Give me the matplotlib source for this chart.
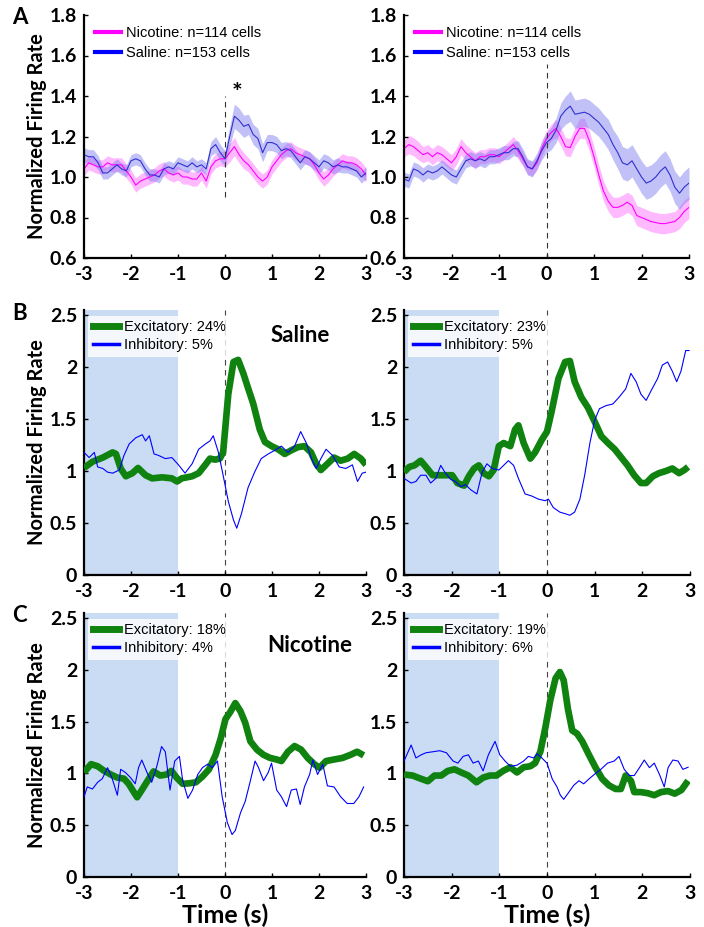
import numpy as np
import matplotlib
matplotlib.use("Agg")
import matplotlib.pyplot as plt

# ---------------- DATA ----------------
# Panel A (t grid 0.1 s from -3 to 3)
tA = [round(-3 + 0.1 * i, 1) for i in range(61)]

A_left_saline = [1.11, 1.10, 1.10, 1.07, 1.02, 1.02, 1.04, 1.06, 1.04, 1.03,
                 1.08, 1.09, 1.08, 1.04, 1.01, 1.01, 1.00, 1.04, 1.05, 1.04,
                 1.07, 1.06, 1.05, 1.07, 1.05, 1.06, 1.04, 1.14, 1.16, 1.12,
                 1.09, 1.20, 1.30, 1.28, 1.25, 1.26, 1.21, 1.19, 1.12, 1.17,
                 1.17, 1.16, 1.13, 1.14, 1.13, 1.10, 1.07, 1.10, 1.09, 1.07,
                 1.05, 1.08, 1.07, 1.05, 1.06, 1.05, 1.05, 1.04, 1.03, 1.00, 1.02]
A_left_saline_sem = [0.035, 0.035, 0.035, 0.035, 0.03, 0.03, 0.03, 0.03, 0.03, 0.03,
                     0.03, 0.03, 0.03, 0.03, 0.03, 0.03, 0.03, 0.03, 0.03, 0.03,
                     0.03, 0.03, 0.03, 0.03, 0.03, 0.03, 0.03, 0.035, 0.04, 0.04,
                     0.04, 0.05, 0.06, 0.06, 0.055, 0.05, 0.05, 0.05, 0.045, 0.04,
                     0.04, 0.04, 0.04, 0.035, 0.035, 0.035, 0.035, 0.035, 0.035, 0.035,
                     0.035, 0.035, 0.035, 0.035, 0.035, 0.03, 0.03, 0.03, 0.03, 0.03, 0.03]
A_left_nicotine = [1.04, 1.07, 1.06, 1.05, 1.05, 1.07, 1.06, 1.06, 1.06, 1.03,
                   1.00, 0.96, 0.98, 0.99, 1.00, 1.01, 1.03, 1.04, 1.02, 1.01,
                   1.02, 1.00, 1.00, 0.99, 0.99, 1.02, 0.98, 1.05, 1.08, 1.09,
                   1.09, 1.12, 1.15, 1.11, 1.08, 1.06, 1.03, 1.00, 0.98, 1.00,
                   1.05, 1.08, 1.11, 1.13, 1.14, 1.12, 1.11, 1.10, 1.09, 1.06,
                   1.02, 0.99, 1.01, 1.04, 1.06, 1.08, 1.07, 1.07, 1.06, 1.04, 1.01]
A_left_nicotine_sem = [0.035, 0.035, 0.035, 0.035, 0.035, 0.035, 0.035, 0.035, 0.035, 0.035,
                       0.035, 0.035, 0.035, 0.035, 0.035, 0.035, 0.035, 0.035, 0.035, 0.035,
                       0.035, 0.035, 0.035, 0.035, 0.035, 0.035, 0.035, 0.035, 0.035, 0.035,
                       0.04, 0.045, 0.045, 0.04, 0.04, 0.035, 0.035, 0.035, 0.035, 0.035,
                       0.035, 0.035, 0.035, 0.035, 0.035, 0.035, 0.035, 0.035, 0.035, 0.035,
                       0.035, 0.035, 0.035, 0.035, 0.035, 0.035, 0.035, 0.035, 0.035, 0.035, 0.035]

A_right_saline = [0.99, 0.98, 1.04, 1.03, 1.01, 1.03, 1.02, 1.03, 1.05, 1.03,
                  1.01, 1.00, 1.04, 1.08, 1.09, 1.08, 1.09, 1.08, 1.10, 1.10,
                  1.11, 1.12, 1.12, 1.14, 1.14, 1.10, 1.05, 1.04, 1.08, 1.13,
                  1.17, 1.19, 1.23, 1.30, 1.33, 1.35, 1.31, 1.315, 1.32, 1.31,
                  1.29, 1.27, 1.24, 1.21, 1.16, 1.12, 1.07, 1.06, 1.08, 1.04,
                  1.00, 0.97, 0.98, 1.00, 1.03, 1.05, 1.01, 0.95, 0.92, 0.95, 0.97]
A_right_saline_sem = [0.035, 0.035, 0.035, 0.035, 0.035, 0.035, 0.035, 0.035, 0.035, 0.035,
                      0.035, 0.035, 0.035, 0.035, 0.035, 0.035, 0.035, 0.035, 0.035, 0.035,
                      0.035, 0.035, 0.035, 0.035, 0.04, 0.04, 0.04, 0.04, 0.04, 0.045,
                      0.05, 0.055, 0.06, 0.065, 0.07, 0.075, 0.07, 0.07, 0.07, 0.07,
                      0.07, 0.07, 0.07, 0.075, 0.075, 0.08, 0.08, 0.08, 0.08, 0.08,
                      0.08, 0.08, 0.08, 0.08, 0.08, 0.08, 0.08, 0.08, 0.08, 0.08, 0.08]
A_right_nicotine = [1.14, 1.16, 1.15, 1.13, 1.11, 1.12, 1.10, 1.12, 1.11, 1.09,
                    1.07, 1.10, 1.15, 1.12, 1.10, 1.08, 1.10, 1.10, 1.11, 1.11,
                    1.10, 1.12, 1.14, 1.16, 1.13, 1.09, 1.05, 1.04, 1.07, 1.14,
                    1.19, 1.22, 1.24, 1.20, 1.15, 1.145, 1.20, 1.24, 1.24, 1.18,
                    1.10, 1.01, 0.93, 0.88, 0.85, 0.85, 0.86, 0.875, 0.86, 0.81,
                    0.80, 0.79, 0.78, 0.775, 0.77, 0.77, 0.775, 0.78, 0.80, 0.83, 0.85]
A_right_nicotine_sem = [0.04, 0.045, 0.045, 0.045, 0.04, 0.04, 0.04, 0.04, 0.04, 0.04,
                        0.04, 0.04, 0.04, 0.04, 0.04, 0.04, 0.035, 0.035, 0.035, 0.035,
                        0.035, 0.035, 0.035, 0.04, 0.04, 0.035, 0.035, 0.035, 0.035, 0.04,
                        0.04, 0.04, 0.045, 0.045, 0.045, 0.045, 0.045, 0.05, 0.05, 0.05,
                        0.05, 0.05, 0.05, 0.05, 0.05, 0.05, 0.05, 0.05, 0.05, 0.05,
                        0.05, 0.05, 0.05, 0.05, 0.05, 0.05, 0.05, 0.05, 0.055, 0.055, 0.055]

# Panel B, Saline (left) / Panel B right
B_left_exc_t = [-3.0, -2.82, -2.6, -2.39, -2.32, -2.22, -2.11, -1.97, -1.85, -1.69, -1.55, -1.34,
                -1.13, -1.02, -0.92, -0.7, -0.56, -0.42, -0.32, -0.21, -0.11, -0.04, 0.07, 0.18,
                0.28, 0.39, 0.49, 0.6, 0.74, 0.85, 0.99, 1.13, 1.27, 1.41, 1.55, 1.69, 1.83,
                1.94, 2.04, 2.18, 2.32, 2.46, 2.61, 2.75, 2.89, 3.0]
B_left_exc = [1.03, 1.09, 1.13, 1.18, 1.165, 1.025, 0.95, 0.98, 1.03, 0.96, 0.93, 0.94,
              0.93, 0.90, 0.93, 0.95, 0.98, 1.06, 1.12, 1.11, 1.12, 1.18, 1.74, 2.05,
              2.07, 1.94, 1.80, 1.65, 1.40, 1.28, 1.24, 1.21, 1.165, 1.20, 1.23, 1.24, 1.18,
              1.07, 1.01, 1.07, 1.13, 1.10, 1.12, 1.165, 1.12, 1.06]
B_left_inh_t = [-3.0, -2.89, -2.78, -2.71, -2.6, -2.5, -2.39, -2.25, -2.15, -2.04, -1.9, -1.76,
                -1.69, -1.61, -1.51, -1.41, -1.27, -1.13, -0.99, -0.85, -0.7, -0.56, -0.42, -0.32,
                -0.25, -0.14, -0.04, 0.07, 0.18, 0.25, 0.35, 0.49, 0.63, 0.77, 0.92, 1.06, 1.2,
                1.34, 1.48, 1.61, 1.73, 1.83, 1.94, 2.04, 2.15, 2.29, 2.43, 2.57, 2.71, 2.82,
                2.92, 3.0]
B_left_inh = [1.18, 1.13, 1.18, 1.04, 1.025, 0.99, 0.98, 1.01, 1.15, 1.26, 1.32, 1.35,
              1.29, 1.34, 1.165, 1.15, 1.12, 1.13, 1.06, 0.98, 1.07, 1.21, 1.26, 1.29,
              1.34, 1.18, 0.96, 0.71, 0.53, 0.45, 0.59, 0.84, 0.99, 1.12, 1.165, 1.20, 1.24,
              1.18, 1.24, 1.38, 1.27, 1.13, 1.025, 1.12, 1.21, 1.15, 1.04, 1.025, 1.06, 0.90,
              0.98, 0.99]

B_right_exc_t = [-3.0, -2.89, -2.78, -2.65, -2.54, -2.4, -2.26, -2.13, -1.99, -1.88, -1.74, -1.64,
                 -1.53, -1.43, -1.33, -1.22, -1.12, -1.01, -0.91, -0.77, -0.67, -0.6, -0.49, -0.35,
                 -0.25, -0.11, 0.0, 0.1, 0.24, 0.38, 0.48, 0.58, 0.72, 0.86, 1.0, 1.14, 1.28,
                 1.42, 1.56, 1.69, 1.83, 1.97, 2.08, 2.22, 2.35, 2.49, 2.63, 2.77, 2.88, 2.96]
B_right_exc = [0.99, 1.04, 1.055, 1.10, 1.04, 0.96, 0.96, 0.96, 0.96, 0.885, 0.86, 0.95,
               1.025, 1.055, 0.98, 0.95, 1.01, 1.24, 1.27, 1.24, 1.40, 1.44, 1.27, 1.12,
               1.18, 1.30, 1.38, 1.58, 1.89, 2.05, 2.06, 1.86, 1.71, 1.61, 1.475, 1.335, 1.27,
               1.21, 1.13, 1.055, 0.96, 0.885, 0.885, 0.95, 0.98, 1.0, 1.025, 0.98, 1.01, 1.04]
B_right_inh_t = [-3.0, -2.85, -2.75, -2.65, -2.54, -2.44, -2.33, -2.23, -2.13, -2.02, -1.92, -1.81,
                 -1.71, -1.6, -1.47, -1.36, -1.26, -1.15, -1.01, -0.91, -0.81, -0.7, -0.6, -0.46,
                 -0.32, -0.18, -0.04, 0.03, 0.13, 0.27, 0.38, 0.48, 0.58, 0.69, 0.79, 0.9, 1.0,
                 1.1, 1.24, 1.38, 1.51, 1.65, 1.76, 1.87, 1.97, 2.08, 2.18, 2.32, 2.42, 2.53,
                 2.63, 2.72, 2.81, 2.91, 2.98]
B_right_inh = [0.93, 0.885, 0.90, 0.96, 0.96, 0.885, 0.93, 1.055, 0.98, 0.92, 0.90, 0.85,
               0.87, 0.82, 0.78, 0.99, 1.07, 1.025, 1.01, 1.055, 1.10, 1.055, 0.93, 0.78,
               0.76, 0.73, 0.715, 0.73, 0.65, 0.605, 0.59, 0.575, 0.605, 0.73, 0.96, 1.27, 1.49,
               1.60, 1.63, 1.645, 1.71, 1.79, 1.94, 1.86, 1.74, 1.68, 1.77, 1.89, 2.02, 2.05,
               1.96, 1.86, 1.96, 2.16, 2.16]

# Panel C, Nicotine
C_left_exc_t = [-3.0, -2.85, -2.71, -2.57, -2.43, -2.29, -2.15, -2.05, -1.94, -1.87, -1.77, -1.66,
                -1.52, -1.38, -1.24, -1.14, -1.03, -0.9, -0.76, -0.62, -0.48, -0.34, -0.2, -0.09,
                0.01, 0.12, 0.22, 0.33, 0.43, 0.54, 0.68, 0.82, 0.96, 1.1, 1.2, 1.34, 1.48,
                1.62, 1.76, 1.9, 2.01, 2.15, 2.32, 2.5, 2.67, 2.81, 2.95]
C_left_exc = [1.01, 1.09, 1.07, 1.025, 0.99, 0.96, 0.95, 0.90, 0.82, 0.77, 0.84, 0.92,
              1.02, 0.98, 0.99, 1.025, 0.96, 0.90, 0.905, 0.915, 0.97, 1.04, 1.18, 1.34,
              1.525, 1.60, 1.68, 1.60, 1.49, 1.31, 1.23, 1.18, 1.15, 1.135, 1.12, 1.21, 1.265,
              1.23, 1.15, 1.09, 1.055, 1.12, 1.135, 1.15, 1.18, 1.21, 1.175]
C_left_inh_t = [-3.0, -2.93, -2.82, -2.71, -2.61, -2.5, -2.4, -2.29, -2.22, -2.12, -2.01, -1.91,
                -1.84, -1.77, -1.66, -1.56, -1.45, -1.35, -1.27, -1.17, -1.07, -0.97, -0.9, -0.79,
                -0.69, -0.58, -0.48, -0.37, -0.27, -0.16, -0.06, 0.05, 0.15, 0.22, 0.33, 0.43,
                0.54, 0.64, 0.71, 0.82, 0.92, 0.99, 1.1, 1.2, 1.31, 1.41, 1.52, 1.6, 1.69,
                1.8, 1.87, 1.97, 2.08, 2.18, 2.32, 2.46, 2.6, 2.74, 2.85, 2.95]
C_left_inh = [0.775, 0.87, 0.85, 0.915, 0.95, 1.056, 0.95, 0.79, 1.04, 1.01, 0.96, 0.90,
              1.056, 1.13, 1.01, 0.915, 1.07, 1.26, 1.21, 0.84, 1.12, 1.165, 0.93, 0.76,
              0.84, 0.99, 1.056, 1.09, 1.056, 1.12, 0.775, 0.525, 0.41, 0.45, 0.62, 0.73,
              0.93, 1.12, 1.06, 0.93, 1.01, 1.10, 0.84, 0.775, 0.68, 0.84, 0.85, 0.70, 0.87,
              0.99, 1.13, 0.99, 1.09, 0.88, 0.87, 0.775, 0.71, 0.71, 0.775, 0.87]

C_right_exc_t = [-3.0, -2.82, -2.68, -2.5, -2.36, -2.22, -2.08, -1.94, -1.8, -1.65, -1.48, -1.34,
                 -1.2, -1.06, -0.92, -0.77, -0.63, -0.49, -0.35, -0.25, -0.14, -0.04, 0.07, 0.18,
                 0.27, 0.35, 0.44, 0.53, 0.63, 0.74, 0.88, 1.02, 1.16, 1.3, 1.44, 1.55, 1.65,
                 1.76, 1.83, 1.97, 2.11, 2.25, 2.39, 2.54, 2.68, 2.82, 2.96]
C_right_exc = [0.99, 0.98, 0.955, 0.925, 0.98, 0.98, 1.025, 1.04, 1.01, 0.98, 0.915, 0.96,
               0.98, 0.98, 1.025, 1.06, 1.01, 1.06, 1.07, 1.10, 1.21, 1.43, 1.71, 1.92,
               1.98, 1.90, 1.62, 1.415, 1.385, 1.31, 1.18, 1.056, 0.947, 0.885, 0.85, 0.85, 0.98,
               0.93, 0.82, 0.82, 0.81, 0.79, 0.82, 0.83, 0.805, 0.84, 0.93]
C_right_inh_t = [-3.0, -2.85, -2.75, -2.64, -2.54, -2.39, -2.25, -2.11, -1.97, -1.87, -1.76, -1.65,
                 -1.55, -1.44, -1.34, -1.23, -1.09, -0.99, -0.88, -0.77, -0.63, -0.49, -0.39, -0.28,
                 -0.21, -0.11, 0.0, 0.11, 0.21, 0.28, 0.35, 0.46, 0.56, 0.67, 0.77, 0.88, 0.99,
                 1.13, 1.27, 1.41, 1.51, 1.62, 1.73, 1.83, 1.94, 2.04, 2.15, 2.25, 2.36, 2.46,
                 2.54, 2.64, 2.75, 2.85, 2.96]
C_right_inh = [1.12, 1.275, 1.15, 1.18, 1.20, 1.21, 1.22, 1.20, 1.12, 1.10, 1.165, 1.18,
               1.10, 1.12, 1.025, 1.18, 1.31, 1.18, 1.12, 1.07, 1.08, 1.12, 1.165, 1.15,
               1.19, 1.15, 1.10, 0.947, 0.87, 0.79, 0.75, 0.82, 0.885, 0.93, 0.90, 0.947, 0.99,
               1.04, 1.10, 1.12, 1.165, 1.04, 0.98, 0.98, 1.056, 1.13, 1.056, 1.10, 0.99, 0.87,
               1.056, 1.13, 1.12, 1.04, 1.06]

legend_A = ["Nicotine: n=114 cells", "Saline: n=153 cells"]
legend_B_left = ["Excitatory: 24%", "Inhibitory: 5%"]
legend_B_right = ["Excitatory: 23%", "Inhibitory: 5%"]
legend_C_left = ["Excitatory: 18%", "Inhibitory: 4%"]
legend_C_right = ["Excitatory: 19%", "Inhibitory: 6%"]
xticks = [-3, -2, -1, 0, 1, 2, 3]
yticks_A = [0.6, 0.8, 1.0, 1.2, 1.4, 1.6, 1.8]
yticks_BC = [0, 0.5, 1, 1.5, 2, 2.5]

# ---------------- STYLE ----------------
BOLD = "Lato"
LEG = "Liberation Sans"
MAG = "#ff00ff"
MAG_BAND = "#ff66ff"
BLU_A = "#3030d0"
BLU_BAND = "#7777ee"
GREEN = "#0f820f"
BLUE = "#0000ff"
SHADE = "#c9dcf3"

W, H = 704, 927
fig = plt.figure(figsize=(W / 100, H / 100), dpi=100)


def ax_px(x0, x1, ytop, ybot):
    return fig.add_axes([x0 / W, 1 - ybot / H, (x1 - x0) / W, (ybot - ytop) / H])


def style(ax, yticks, ylim, fmt):
    ax.set_xlim(-3, 3)
    ax.set_ylim(*ylim)
    ax.set_xticks(xticks)
    ax.set_xticklabels([str(v) for v in xticks])
    ax.set_yticks(yticks)
    ax.set_yticklabels([fmt(v) for v in yticks])
    for s in ["top", "right"]:
        ax.spines[s].set_visible(False)
    for s in ["left", "bottom"]:
        ax.spines[s].set_linewidth(1.6)
    ax.tick_params(direction="in", length=3, width=1)
    ax.tick_params(axis="x", pad=6)
    ax.tick_params(axis="y", pad=5)
    for lab in ax.get_xticklabels() + ax.get_yticklabels():
        lab.set_fontfamily(BOLD)
        lab.set_fontweight("bold")
        lab.set_fontsize(14)


def panel_A(ax, sal, sal_sem, nic, nic_sem, dash_lo, dash_hi):
    t = np.array(tA)
    s, ss = np.array(sal), np.array(sal_sem)
    n, ns = np.array(nic), np.array(nic_sem)
    ax.fill_between(t, n - ns, n + ns, color=MAG_BAND, alpha=0.45, lw=0)
    ax.fill_between(t, s - ss, s + ss, color=BLU_BAND, alpha=0.45, lw=0)
    ax.plot(t, n, color=MAG, lw=0.8)
    ax.plot(t, s, color=BLU_A, lw=0.8)
    ax.plot([0, 0], [dash_lo, dash_hi], color="#333333", lw=0.8, ls=(0, (5, 4)))
    style(ax, yticks_A, (0.6, 1.8), lambda v: f"{v:.1f}")
    h1, = ax.plot([], [], color=MAG, lw=3)
    h2, = ax.plot([], [], color=BLUE, lw=3)
    ax.legend([h1, h2], legend_A, loc="upper left", bbox_to_anchor=(0.0, 1.0),
              frameon=False, handlelength=1.8, handletextpad=0.35, labelspacing=0.4,
              prop={"family": LEG, "size": 10.5}, borderaxespad=0.35)


def panel_BC(ax, et, e, it, i, labels):
    ax.axvspan(-3, -1, ymin=0, ymax=1, color=SHADE, lw=0, zorder=0)
    ax.axvline(0, color="#444444", lw=0.8, ls=(0, (5, 4)), zorder=1)
    ax.plot(et, e, color=GREEN, lw=4.8, zorder=3, solid_capstyle="butt")
    ax.plot(it, i, color=BLUE, lw=0.8, zorder=4)
    style(ax, yticks_BC, (0, 2.55), lambda v: f"{v:g}")
    h1, = ax.plot([], [], color=GREEN, lw=5)
    h2, = ax.plot([], [], color=BLUE, lw=2.5)
    leg = ax.legend([h1, h2], labels, loc="upper left", bbox_to_anchor=(0.0, 0.995),
                    frameon=True, fancybox=False, handlelength=1.8, handletextpad=0.35,
                    labelspacing=0.3, prop={"family": LEG, "size": 10.5}, borderaxespad=0.3,
                    borderpad=0.3)
    leg.get_frame().set_facecolor("white")
    leg.get_frame().set_edgecolor("none")
    leg.get_frame().set_alpha(0.8)


axA1 = ax_px(84, 366, 15, 258)
axA2 = ax_px(404, 689, 15, 258)
axB1 = ax_px(84, 366, 310, 575)
axB2 = ax_px(404, 690, 310, 575)
axC1 = ax_px(84, 366, 613, 877)
axC2 = ax_px(404, 690, 613, 877)

panel_A(axA1, A_left_saline, A_left_saline_sem, A_left_nicotine, A_left_nicotine_sem, 0.9, 1.4)
panel_A(axA2, A_right_saline, A_right_saline_sem, A_right_nicotine, A_right_nicotine_sem, 0.6, 1.56)
axA1.text(0.25, 1.41, "*", ha="center", va="center", fontsize=18, fontweight="bold",
          fontfamily=BOLD)

panel_BC(axB1, B_left_exc_t, B_left_exc, B_left_inh_t, B_left_inh, legend_B_left)
panel_BC(axB2, B_right_exc_t, B_right_exc, B_right_inh_t, B_right_inh, legend_B_right)
panel_BC(axC1, C_left_exc_t, C_left_exc, C_left_inh_t, C_left_inh, legend_C_left)
panel_BC(axC2, C_right_exc_t, C_right_exc, C_right_inh_t, C_right_inh, legend_C_right)

axB1.text(1.6, 2.3, "Saline", ha="center", va="center", fontsize=16, fontweight="bold",
          fontfamily=BOLD)
axC1.text(1.8, 2.24, "Nicotine", ha="center", va="center", fontsize=16, fontweight="bold",
          fontfamily=BOLD)

for ax in [axA1, axB1, axC1]:
    ax.set_ylabel("Normalized Firing Rate", fontsize=14.5, fontweight="bold",
                  fontfamily=BOLD, labelpad=2)
for ax in [axC1, axC2]:
    ax.set_xlabel("Time (s)", fontsize=18, fontweight="bold", fontfamily=BOLD, labelpad=1)

for lab, y in [("A", 18), ("B", 313), ("C", 616)]:
    fig.text(12 / W, 1 - y / H, lab, fontsize=16, fontweight="bold", fontfamily=BOLD,
             ha="left", va="center")

fig.savefig("out.png", dpi=100)
